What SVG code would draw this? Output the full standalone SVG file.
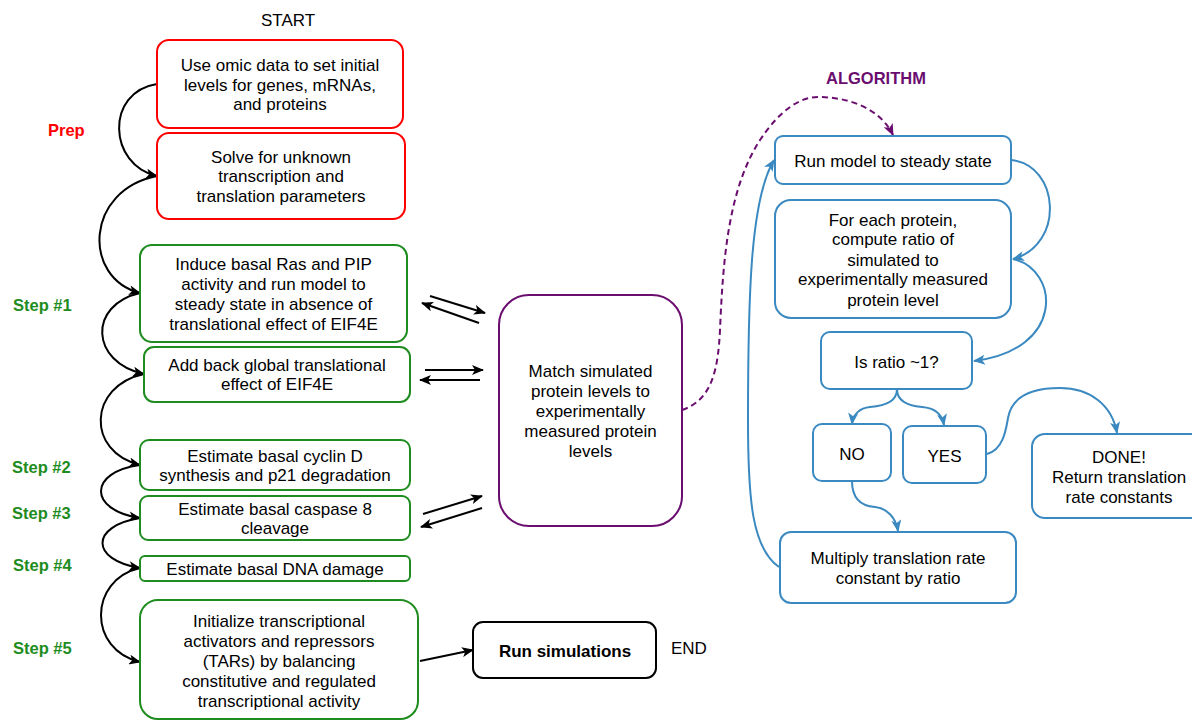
<svg xmlns="http://www.w3.org/2000/svg" width="1192" height="721" viewBox="0 0 1192 721">
<style>
text{font-family:"Liberation Sans",Arial,sans-serif;font-size:17px;fill:#000;text-anchor:middle}
.lbl{font-size:16.5px;font-weight:bold;text-anchor:start}
.red rect{fill:#fff;stroke:#ff0000;stroke-width:2}
.grn rect{fill:#fff;stroke:#1e8c1e;stroke-width:2}
.blu rect{fill:#fff;stroke:#3a89c0;stroke-width:2}
.pur rect{fill:#fff;stroke:#6a0d6f;stroke-width:2}
.blk rect{fill:#fff;stroke:#000;stroke-width:2}
.ck{fill:none;stroke:#000;stroke-width:2;marker-end:url(#ak)}
.cb{fill:none;stroke:#3a89c0;stroke-width:2;marker-end:url(#ab)}
.cp{fill:none;stroke:#6a0d6f;stroke-width:2;stroke-dasharray:6,4;marker-end:url(#ap)}
</style>
<defs>
<marker id="ak" viewBox="0 0 12 10" refX="11" refY="5" markerWidth="13" markerHeight="10" markerUnits="userSpaceOnUse" orient="auto"><path d="M0,0 L12,5 L0,10 L3,5 z" fill="#000"/></marker>
<marker id="ab" viewBox="0 0 12 10" refX="11" refY="5" markerWidth="13" markerHeight="10" markerUnits="userSpaceOnUse" orient="auto"><path d="M0,0 L12,5 L0,10 L3,5 z" fill="#3a89c0"/></marker>
<marker id="ap" viewBox="0 0 12 10" refX="11" refY="5" markerWidth="13" markerHeight="10" markerUnits="userSpaceOnUse" orient="auto"><path d="M0,0 L12,5 L0,10 L3,5 z" fill="#6a0d6f"/></marker>
</defs>

<g id="labels">
<text x="288" y="26">START</text>
<text class="lbl" x="48" y="136" style="fill:#ff0000">Prep</text>
<text class="lbl" x="13" y="311" style="fill:#1e8c1e">Step #1</text>
<text class="lbl" x="12" y="473" style="fill:#1e8c1e">Step #2</text>
<text class="lbl" x="12" y="519" style="fill:#1e8c1e">Step #3</text>
<text class="lbl" x="13" y="571" style="fill:#1e8c1e">Step #4</text>
<text class="lbl" x="13" y="654" style="fill:#1e8c1e">Step #5</text>
<text class="lbl" x="826" y="84" style="fill:#6a0d6f">ALGORITHM</text>
<text x="671" y="654" style="text-anchor:start">END</text>
</g>

<g id="connectors">
<path class="ck" d="M157,84 C105,92 108,165 157,176"/>
<path class="ck" d="M157,176 C85,190 82,278 140,293"/>
<path class="ck" d="M140,293 C88,305 90,362 144,374"/>
<path class="ck" d="M144,374 C88,386 86,452 140,465"/>
<path class="ck" d="M140,465 C88,472 88,510 140,518"/>
<path class="ck" d="M140,518 C90,526 90,560 140,568"/>
<path class="ck" d="M140,568 C88,580 88,650 140,662"/>
<path class="ck" d="M430,296 L485,313"/>
<path class="ck" d="M479,323 L422,303"/>
<path class="ck" d="M425,370 L483,370"/>
<path class="ck" d="M480,380 L420,380"/>
<path class="ck" d="M423,514 L482,496"/>
<path class="ck" d="M482,508 L421,527"/>
<path class="ck" d="M420,661 L473,650"/>
<path class="cp" d="M682,410 C712,400 718,370 720,330 C723,260 728,190 760,140 C780,110 800,97 818,97 C848,97 880,108 893,135"/>
<path class="cb" d="M1011,160 C1060,165 1065,245 1013,259"/>
<path class="cb" d="M1013,259 C1060,270 1065,350 974,361"/>
<path class="cb" d="M897,389 C897,402 885,406 870,407 C860,408 853,414 852,424"/>
<path class="cb" d="M897,389 C897,402 910,406 922,407 C935,408 942,414 944,425"/>
<path class="cb" d="M987,454 C1003,450 1006,430 1008,418 C1012,395 1035,388 1060,388 C1090,388 1112,405 1117,433"/>
<path class="cb" d="M852,481 C852,497 860,506 875,507 C887,508 896,518 898,531"/>
<path class="cb" d="M779,567 C752,548 748,500 748,420 C748,300 750,200 774,160"/>
</g>

<g id="n1" class="red"><rect x="157" y="40" width="246" height="88" rx="12"/>
<text x="280" y="71">Use omic data to set initial</text><text x="280" y="90.5">levels for genes, mRNAs,</text><text x="280" y="110">and proteins</text></g>
<g id="n2" class="red"><rect x="157" y="133" width="248" height="86" rx="12"/>
<text x="281" y="162.5">Solve for unknown</text><text x="281" y="182">transcription and</text><text x="281" y="201.5">translation parameters</text></g>

<g id="s1a" class="grn"><rect x="140" y="245" width="267" height="97" rx="12"/>
<text x="273.5" y="270">Induce basal Ras and PIP</text><text x="273.5" y="289.5">activity and run model to</text><text x="273.5" y="309.5">steady state in absence of</text><text x="273.5" y="329.5">translational effect of EIF4E</text></g>
<g id="s1b" class="grn"><rect x="144" y="347" width="266" height="55" rx="10"/>
<text x="277" y="371">Add back global translational</text><text x="277" y="390">effect of EIF4E</text></g>
<g id="s2" class="grn"><rect x="140" y="440" width="270" height="50" rx="9"/>
<text x="275" y="462">Estimate basal cyclin D</text><text x="275" y="481">synthesis and p21 degradation</text></g>
<g id="s3" class="grn"><rect x="140" y="496" width="270" height="44" rx="8"/>
<text x="275" y="515">Estimate basal caspase 8</text><text x="275" y="533.5">cleavage</text></g>
<g id="s4" class="grn"><rect x="140" y="556" width="270" height="25" rx="5"/>
<text x="275" y="575">Estimate basal DNA damage</text></g>
<g id="s5" class="grn"><rect x="140" y="600" width="278" height="119" rx="18"/>
<text x="279" y="627">Initialize transcriptional</text><text x="279" y="646.5">activators and repressors</text><text x="279" y="666.5">(TARs) by balancing</text><text x="279" y="686.5">constitutive and regulated</text><text x="279" y="706.5">transcriptional activity</text></g>

<g id="match" class="pur"><rect x="499" y="295" width="183" height="231" rx="30"/>
<text x="590.5" y="376.5">Match simulated</text><text x="590.5" y="396.5">protein levels to</text><text x="590.5" y="416.5">experimentally</text><text x="590.5" y="436.5">measured protein</text><text x="590.5" y="456.5">levels</text></g>

<g id="run" class="blk"><rect x="473" y="622" width="183" height="56" rx="10"/>
<text x="565" y="656.5" style="font-weight:bold">Run simulations</text></g>

<g id="b1" class="blu"><rect x="775" y="136" width="236" height="48" rx="8"/>
<text x="893" y="166.5">Run model to steady state</text></g>
<g id="b2" class="blu"><rect x="775" y="200" width="236" height="118" rx="16"/>
<text x="893" y="225.5">For each protein,</text><text x="893" y="245">compute ratio of</text><text x="893" y="265.5">simulated to</text><text x="893" y="285">experimentally measured</text><text x="893" y="305.5">protein level</text></g>
<g id="b3" class="blu"><rect x="821" y="332" width="151" height="57" rx="9"/>
<text x="896.5" y="367.5">Is ratio ~1?</text></g>
<g id="b4" class="blu"><rect x="813" y="424" width="78" height="57" rx="9"/>
<text x="852" y="459.5">NO</text></g>
<g id="b5" class="blu"><rect x="903" y="426" width="83" height="57" rx="9"/>
<text x="944.5" y="461.5">YES</text></g>
<g id="b6" class="blu"><rect x="1032" y="434" width="180" height="84" rx="13"/>
<text x="1119" y="462.5">DONE!</text><text x="1119" y="482.5">Return translation</text><text x="1119" y="503">rate constants</text></g>
<g id="b7" class="blu"><rect x="780" y="532" width="236" height="71" rx="11"/>
<text x="898" y="564">Multiply translation rate</text><text x="898" y="583.5">constant by ratio</text></g>
</svg>
